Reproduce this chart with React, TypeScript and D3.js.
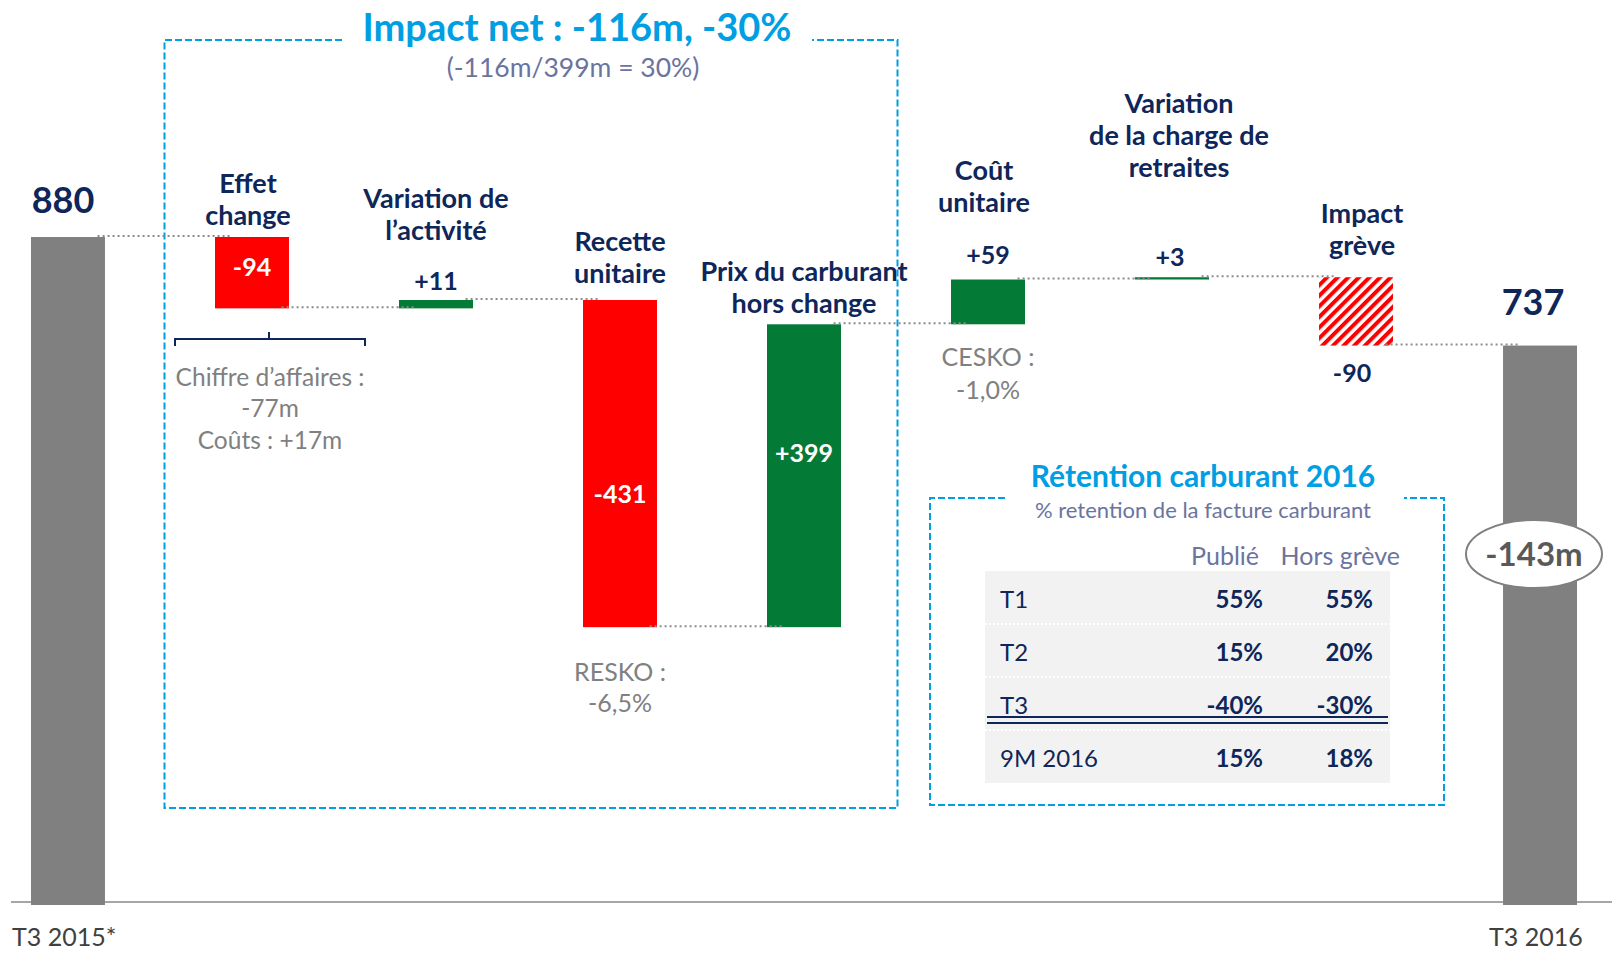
import React from 'react';
import * as d3 from 'd3';

// chart data
const categories = [
    'T3 2015*',
    'Effet change',
    'Variation de l’activité',
    'Recette unitaire',
    'Prix du carburant hors change',
    'Coût unitaire',
    'Variation de la charge de retraites',
    'Impact grève',
    'T3 2016'
];
const values = [880, -94, 11, -431, 399, 59, 3, -90, 737];
const isTotal = [true, false, false, false, false, false, false, false, true];
const isHatched = [false, false, false, false, false, false, false, true, false];
const labelLines = [
    [],
    ['Effet', 'change'],
    ['Variation de', 'l’activité'],
    ['Recette', 'unitaire'],
    ['Prix du carburant', 'hors change'],
    ['Coût', 'unitaire'],
    ['Variation', 'de la charge de', 'retraites'],
    ['Impact', 'grève'],
    []
];

const retentionRows = ['T1', 'T2', 'T3', '9M 2016'];
const retentionPublie = [55, 15, -40, 15];
const retentionHorsGreve = [55, 20, -30, 18];
const retentionHeaders = ['Publié', 'Hors grève'];

// layout of the value labels ('above' | 'inside' | 'below') and gaps
const valuePlace = ['above', 'inside', 'above', 'inside', 'inside', 'above', 'above', 'below', 'above'];
const valueDy = [24, 3, 10, 39, -14, 16, 11, 36, 31];
const valueDx = [-5, 0, 0, 0, 0, 0, -2, -4, -7];
const catGap = [0, 12, 50, 17, 11, 52, 89, 22, 0];
const catDx = [0, -4, 0, 0, 0, -4, 7, 6, 0];

const W = 1612, H = 954;
const NAVY = '#0e2659';
const BLUE = '#009ee2';
const SLATE = '#6b739f';
const GREY_TXT = '#808080';
const FONT = 'Lato, "Open Sans", sans-serif';

const App = () => {
    const x = d3.scaleBand<string>()
        .domain(categories)
        .range([31, 1577])
        .paddingInner(0.598)
        .paddingOuter(0);
    const y = d3.scaleLinear().domain([0, 880]).range([905, 237]);
    const bw = x.bandwidth();

    // running totals for the waterfall
    let running = 0;
    const bars = categories.map((c, i) => {
        const v = values[i];
        let start, end;
        if (isTotal[i]) {
            start = 0;
            end = v;
        } else {
            start = running;
            end = running + v;
        }
        running = end;
        let fill = '#808080';
        if (!isTotal[i]) fill = v >= 0 ? '#037a35' : '#ff0000';
        if (isHatched[i]) fill = 'url(#hatch)';
        return {
            cat: c, v, i, start, end, fill,
            x0: x(c) as number,
            top: y(Math.max(start, end)),
            bottom: y(Math.min(start, end))
        };
    });

    const fmt = (b) => (isTotal[b.i] ? String(b.v) : (b.v > 0 ? '+' + b.v : String(b.v)));

    const cx = (i) => (x(categories[i]) as number) + bw / 2;

    // table geometry
    const tX0 = 985, tX1 = 1390, tY0 = 571, rowH = 53;
    const colRight = [1263, 1373];
    const headRight = [1259, 1400];

    return (
        <svg width={W} height={H} style={{ position: 'absolute', left: 0, top: 0, background: '#fff' }}
             fontFamily={FONT}>
            <defs>
                <pattern id="hatch" patternUnits="userSpaceOnUse" width="7.5" height="7.5"
                         patternTransform="rotate(45)">
                    <rect width="7.5" height="7.5" fill="#fff" />
                    <rect width="4" height="7.5" fill="#ff0000" />
                </pattern>
            </defs>

            {/* baseline axis */}
            <line x1={11} x2={W} y1={902} y2={902} stroke="#a6a6a6" strokeWidth={2} />

            {/* impact net box */}
            <path d="M342,40 H164.5 V808 H897.5 V40 H812" fill="none" stroke={BLUE}
                  strokeWidth={2} strokeDasharray="7,3" />
            <text x={577} y={41} textAnchor="middle" fill={BLUE} fontSize={38} fontWeight="bold">
                Impact net : -116m, -30%
            </text>
            <text x={573} y={77} textAnchor="middle" fill={SLATE} fontSize={26.5}>
                (-116m/399m = 30%)
            </text>

            {/* bars */}
            {bars.map(b => (
                <rect key={b.cat} x={b.x0} y={b.top} width={bw} height={Math.max(1.5, b.bottom - b.top)}
                      fill={b.fill} />
            ))}

            {/* connectors */}
            {bars.slice(0, -1).map((b, i) => {
                const ny = y(b.end);
                return (
                    <line key={'c' + i} x1={b.x0 + bw * 0.9} x2={bars[i + 1].x0 + bw * 0.2}
                          y1={ny - 1} y2={ny - 1} stroke="#8c8c8c" strokeWidth={2}
                          strokeDasharray="2,3" />
                );
            })}

            {/* value labels */}
            {bars.map(b => {
                const place = valuePlace[b.i];
                const big = isTotal[b.i];
                let ty;
                if (place === 'above') ty = b.top - valueDy[b.i];
                else if (place === 'below') ty = b.bottom + valueDy[b.i];
                else ty = (b.top + b.bottom) / 2 + valueDy[b.i];
                return (
                    <text key={'v' + b.i} x={cx(b.i) + valueDx[b.i]} y={ty} textAnchor="middle"
                          fontWeight="bold" fontSize={big ? 36 : 25}
                          fill={place === 'inside' ? '#fff' : NAVY}>
                        {fmt(b)}
                    </text>
                );
            })}

            {/* category labels */}
            {bars.map(b => {
                const lines = labelLines[b.i];
                if (!lines.length) return null;
                const ref = valuePlace[b.i] === 'above' ? b.top - valueDy[b.i] : b.top;
                const last = ref - catGap[b.i];
                return (
                    <text key={'l' + b.i} textAnchor="middle" fontWeight="bold" fontSize={27} fill={NAVY}>
                        {lines.map((t, k) => (
                            <tspan key={k} x={cx(b.i) + catDx[b.i]} y={last - (lines.length - 1 - k) * 32}>{t}</tspan>
                        ))}
                    </text>
                );
            })}

            {/* bottom category names */}
            <text x={12} y={946} fontSize={25} fill="#404040">{categories[0]}</text>
            <text x={1489} y={946} fontSize={25} fill="#404040">{categories[8]}</text>

            {/* brace + notes under effet change */}
            <path d="M175,346 V339 H365 V346 M269,339 V332" fill="none" stroke={NAVY} strokeWidth={2} />
            <text textAnchor="middle" fontSize={24.5} fill={GREY_TXT}>
                <tspan x={270} y={386}>Chiffre d’affaires :</tspan>
                <tspan x={270} y={417}>-77m</tspan>
                <tspan x={270} y={449}>Coûts : +17m</tspan>
            </text>
            <text textAnchor="middle" fontSize={25} fill={GREY_TXT}>
                <tspan x={cx(3)} y={bars[3].bottom + 54}>RESKO :</tspan>
                <tspan x={cx(3)} y={bars[3].bottom + 85}>-6,5%</tspan>
            </text>
            <text textAnchor="middle" fontSize={25} fill={GREY_TXT}>
                <tspan x={cx(5)} y={bars[5].bottom + 42}>CESKO :</tspan>
                <tspan x={cx(5)} y={bars[5].bottom + 75}>-1,0%</tspan>
            </text>

            {/* -143m ellipse */}
            <ellipse cx={1534} cy={554} rx={68} ry={34} fill="#fff" stroke="#808080" strokeWidth={2} />
            <text x={1534} y={566} textAnchor="middle" fontWeight="bold" fontSize={33} fill="#595959">-143m</text>

            {/* retention box */}
            <path d="M1005,498 H930 V805 H1444 V498 H1404" fill="none" stroke={BLUE}
                  strokeWidth={2} strokeDasharray="7,3" />
            <text x={1203} y={487} textAnchor="middle" fill={BLUE} fontSize={30} fontWeight="bold">
                Rétention carburant 2016
            </text>
            <text x={1203} y={518} textAnchor="middle" fill={SLATE} fontSize={22}>
                % retention de la facture carburant
            </text>
            {retentionHeaders.map((h, k) => (
                <text key={h} x={headRight[k]} y={565} textAnchor="end" fill={SLATE} fontSize={25}>{h}</text>
            ))}
            <rect x={tX0} y={tY0} width={tX1 - tX0} height={rowH * 4} fill="#f2f2f2" />
            {[1, 2, 3].map(k => (
                <line key={'s' + k} x1={tX0} x2={tX1} y1={tY0 + rowH * k} y2={tY0 + rowH * k}
                      stroke="#fff" strokeWidth={2} strokeDasharray="2,2" />
            ))}
            {retentionRows.map((r, k) => {
                const by = tY0 + rowH * k + 37;
                return (
                    <g key={r}>
                        <text x={1000} y={by} fontSize={24} fill={NAVY}>{r}</text>
                        <text x={colRight[0]} y={by} textAnchor="end" fontSize={24} fontWeight="bold"
                              fill={NAVY}>{retentionPublie[k] + '%'}</text>
                        <text x={colRight[1]} y={by} textAnchor="end" fontSize={24} fontWeight="bold"
                              fill={NAVY}>{retentionHorsGreve[k] + '%'}</text>
                    </g>
                );
            })}
            <line x1={987} x2={1388} y1={717} y2={717} stroke={NAVY} strokeWidth={2} />
            <line x1={987} x2={1388} y1={723} y2={723} stroke={NAVY} strokeWidth={2} />
        </svg>
    );
};

export default App;
